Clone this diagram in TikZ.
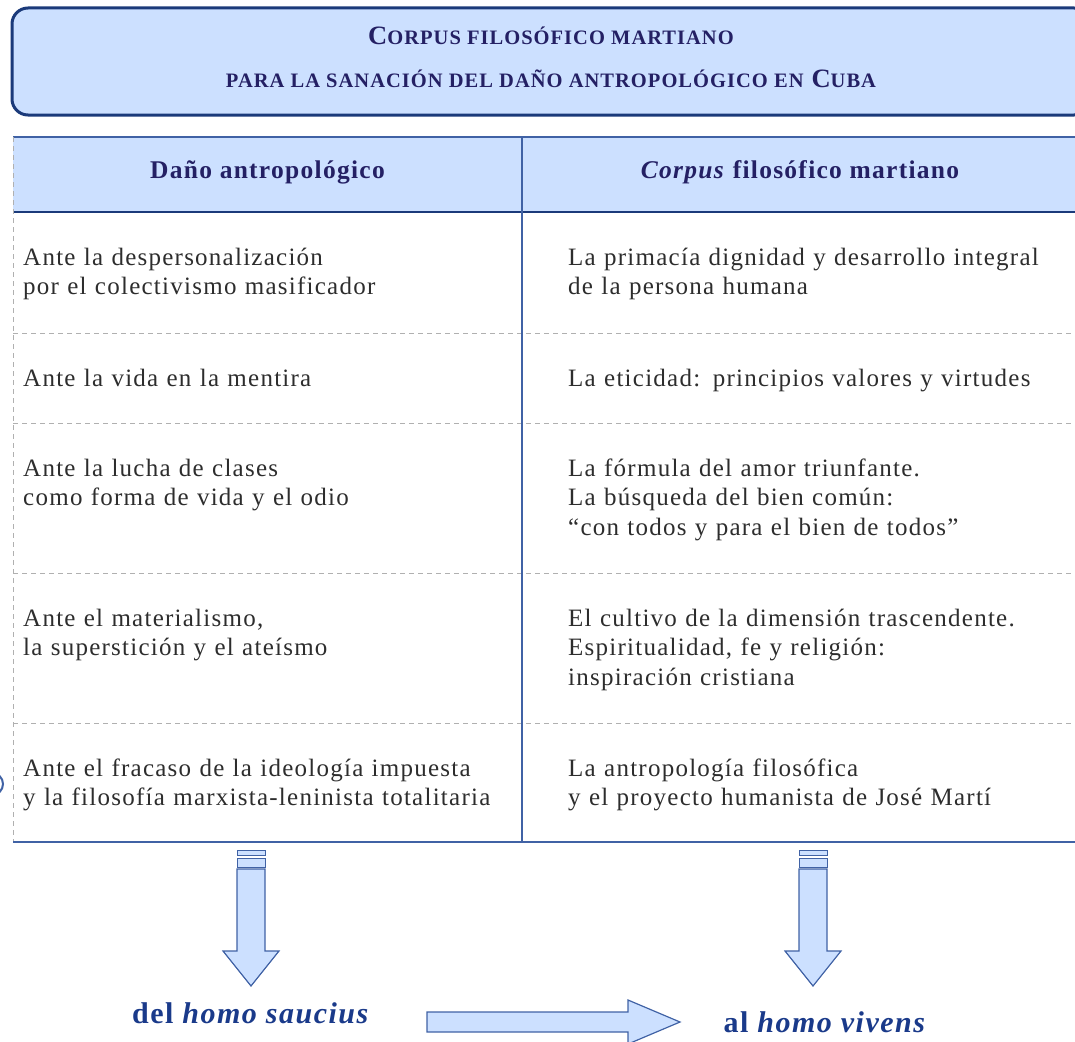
\documentclass[tikz,border=0pt]{standalone}
\usepackage{fontspec}
\setmainfont{Liberation Serif}[LetterSpace=5]
\usepackage{tikz}
\usetikzlibrary{positioning}

\definecolor{fondoazul}{RGB}{204,224,255}
\definecolor{bordeazul}{RGB}{27,58,122}
\definecolor{lineaazul}{RGB}{64,98,165}
\definecolor{textogris}{RGB}{45,45,45}
\definecolor{textotitulo}{RGB}{36,32,100}
\definecolor{textohomo}{RGB}{26,58,138}
\definecolor{guiongris}{RGB}{176,176,176}

\newcommand{\fsc}[1]{{\fontsize{20.5}{20.5}\selectfont #1}}

\tikzset{
  titulo/.style={draw=bordeazul, line width=3pt, fill=fondoazul, rounded corners=16pt,
    minimum width=1078pt, minimum height=107pt},
  titulotexto/.style={align=center, text=textotitulo, inner sep=0pt,
    font=\fontsize{26.5}{43}\selectfont\bfseries},
  cabecera/.style={text=textotitulo, font=\fontsize{25.5}{30}\selectfont\bfseries},
  celda/.style={anchor=base west, inner sep=0pt, text width=500pt, align=left,
    text=textogris, font=\fontsize{25}{29.5}\selectfont},
  sepgris/.style={draw=guiongris, line width=1pt, dash pattern=on 5pt off 4pt},
  lineatabla/.style={draw=lineaazul, line width=1.6pt},
  flecha/.style={draw=lineaazul, line width=1.2pt, fill=fondoazul, line join=miter},
  homo/.style={text=textohomo, font=\fontsize{30}{34}\selectfont\bfseries}
}

\begin{document}
\begin{tikzpicture}[x=1pt,y=-1pt]
  \useasboundingbox (0,0) rectangle (1075,1041);

  \node[titulo] (titulo) at (551,61.5) {};
  \node[titulotexto] (titulotxt) at (551,57)
    {C\fsc{ORPUS FILOSÓFICO MARTIANO}\\
     \fsc{PARA LA SANACIÓN DEL DAÑO ANTROPOLÓGICO EN} C\fsc{UBA}};

  % cabecera de la tabla
  \fill[fondoazul] (13,137) rectangle (1080,212);
  \draw[lineatabla] (13,137) -- (1080,137);
  \draw[lineatabla, draw=bordeazul, line width=2pt] (13,212) -- (1080,212);
  \node[cabecera] (hdano) at (267.5,172) {Daño antropológico};
  \node[cabecera] (hcorpus) at (800,172) {\textit{Corpus} filosófico martiano};

  % filas
  \foreach \y in {333,423,573,723}
    \draw[sepgris] (13,\y) -- (1080,\y);
  \draw[sepgris] (13.5,137) -- (13.5,842);
  \draw[lineatabla] (522,137) -- (522,842);
  \draw[lineatabla] (13,842) -- (1080,842);

  \node[celda] (d1) at (23,265) {Ante la despersonalización\\por el colectivismo masificador};
  \node[celda] (d2) at (23,386) {Ante la vida en la mentira};
  \node[celda] (d3) at (23,476) {Ante la lucha de clases\\como forma de vida y el odio};
  \node[celda] (d4) at (23,626) {Ante el materialismo,\\la superstición y el ateísmo};
  \node[celda] (d5) at (23,776) {Ante el fracaso de la ideología impuesta\\y la filosofía marxista-leninista totalitaria};

  \node[celda] (c1) at (568,265) {La primacía dignidad y desarrollo integral\\de la persona humana};
  \node[celda] (c2) at (568,386) {La eticidad: principios valores y virtudes};
  \node[celda] (c3) at (568,476) {La fórmula del amor triunfante.\\La búsqueda del bien común:\\“con todos y para el bien de todos”};
  \node[celda] (c4) at (568,626) {El cultivo de la dimensión trascendente.\\Espiritualidad, fe y religión:\\inspiración cristiana};
  \node[celda] (c5) at (568,776) {La antropología filosófica\\y el proyecto humanista de José Martí};

  % borde recortado a la izquierda
  \draw[draw=lineaazul, line width=2pt] (-8,784) circle (11);

  % flechas hacia abajo
  \foreach \x in {251,813} {
    \draw[flecha, line width=1pt] (\x-14,850) rectangle (\x+14,855);
    \draw[flecha, line width=1pt] (\x-14,858) rectangle (\x+14,867);
    \draw[flecha] (\x-14,869) -- (\x+14,869) -- (\x+14,951) -- (\x+28,951)
      -- (\x,986) -- (\x-28,951) -- (\x-14,951) -- cycle;
  }

  \node[homo] (saucius) at (251,1013) {del \textit{homo saucius}};
  \node[homo] (vivens) at (825,1022) {al \textit{homo vivens}};

  \draw[flecha] (427,1012) -- (628,1012) -- (628,1000) -- (680,1022)
    -- (628,1044) -- (628,1032) -- (427,1032) -- cycle;
\end{tikzpicture}
\end{document}
